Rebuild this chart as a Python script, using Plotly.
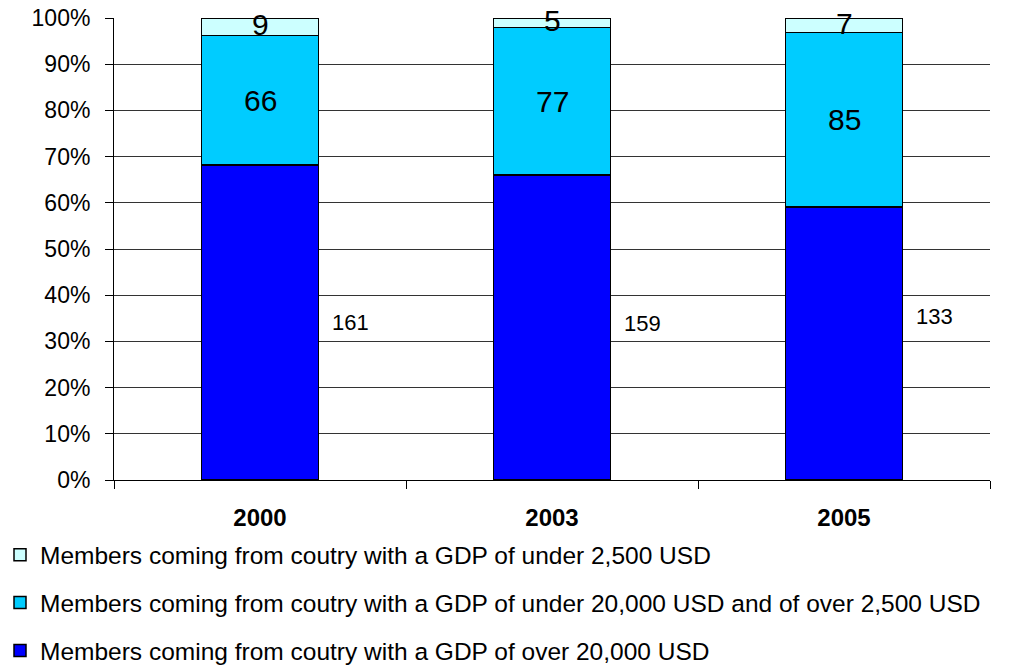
import plotly.graph_objects as go

years = ["2000", "2003", "2005"]
over_20000 = [161, 159, 133]
mid_range = [66, 77, 85]
under_2500 = [9, 5, 7]

names = [
    "Members coming from coutry with a GDP of over 20,000 USD",
    "Members coming from coutry with a GDP of under 20,000 USD and of over 2,500 USD",
    "Members coming from coutry with a GDP of under 2,500 USD",
]
colors = ["#0000FF", "#00CCFF", "#CCFFFF"]
series = [over_20000, mid_range, under_2500]

FONT = "Liberation Sans, Arial, sans-serif"

fig = go.Figure()
for i, (vals, name, col) in enumerate(zip(series, names, colors)):
    fig.add_trace(go.Bar(
        x=years, y=vals, name=name, legendgroup=f"g{i}", legendrank=10 - i,
        marker=dict(color=col, line=dict(color="black", width=1.5)),
        width=0.4, hoverinfo="skip",
    ))

totals = [a + b + c for a, b, c in zip(*series)]
annotations = []
bottom_yshift = [0, 4, 27]
for j, yr in enumerate(years):
    base = 0.0
    for i, vals in enumerate(series):
        pct = vals[j] / totals[j] * 100
        mid = base + pct / 2
        if i == 0:
            annotations.append(dict(x=j, y=mid, text=str(vals[j]), showarrow=False,
                                    xshift=90, yshift=bottom_yshift[j],
                                    font=dict(size=22, color="black", family=FONT)))
        else:
            annotations.append(dict(x=j, y=mid, text=str(vals[j]), showarrow=False,
                                    yshift=2 if i == 2 else 0,
                                    font=dict(size=30, color="black", family=FONT)))
        base += pct

fig.update_layout(
    barmode="stack", barnorm="percent",
    width=1026, height=667,
    margin=dict(l=114, r=36, t=18, b=187, autoexpand=False),
    paper_bgcolor="white", plot_bgcolor="white",
    font=dict(family=FONT, color="black", size=22),
    annotations=annotations,
    showlegend=True,
    legend=dict(
        traceorder="grouped", tracegroupgap=13,
        orientation="v", xref="container", yref="container",
        x=0.0, y=0.202, xanchor="left", yanchor="top",
        font=dict(size=24.5, family=FONT, color="black"),
        bgcolor="rgba(0,0,0,0)",
    ),
    xaxis=dict(
        type="category", range=[-0.5, 2.5], showline=True, linecolor="black", linewidth=1,
        ticks="outside", tickson="boundaries", ticklen=8, tickcolor="black",
        tickangle=0, ticklabelstandoff=16,
        tickfont=dict(size=24, family=FONT, color="black", weight="bold"),
        showgrid=False,
    ),
    yaxis=dict(
        range=[0, 100], dtick=10, ticksuffix="%",
        showline=True, linecolor="black", linewidth=1,
        ticks="outside", ticklen=8, tickcolor="black",
        ticklabelstandoff=10,
        showgrid=True, gridcolor="#333333", gridwidth=1,
        tickfont=dict(size=23, family=FONT, color="black"),
        zeroline=False,
    ),
)

fig.write_html("out.html")
